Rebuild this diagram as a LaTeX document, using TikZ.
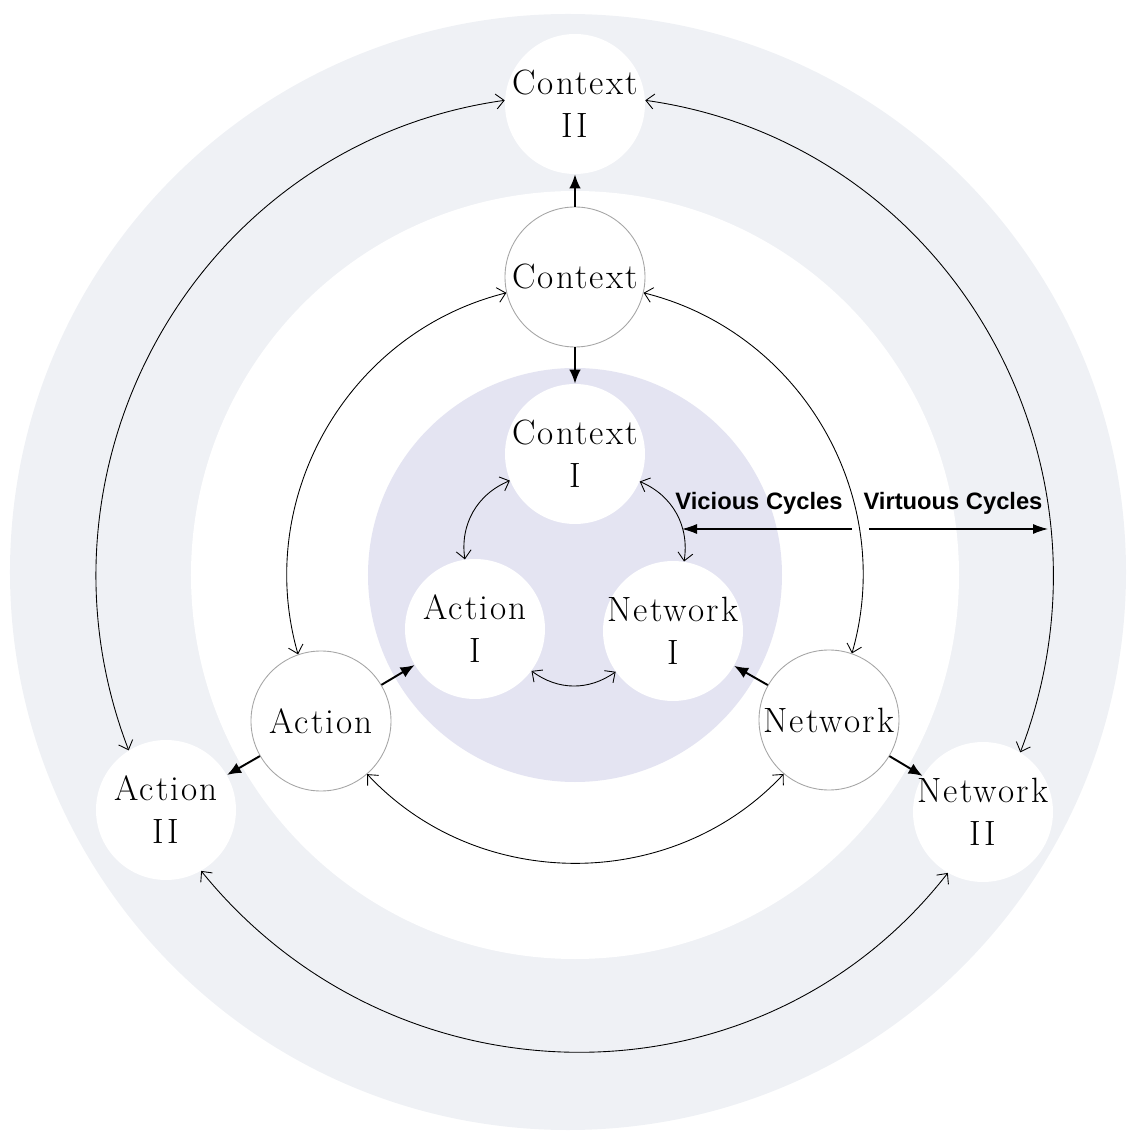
\documentclass[tikz,border=0pt]{standalone}
\usepackage{fontspec}
\usetikzlibrary{arrows.meta}
\newfontfamily\cyclefont{Liberation Sans}
\newfontfamily\ringfont[LetterSpace=6]{lmroman17-regular.otf}
\definecolor{haze}{RGB}{239,241,245}
\definecolor{lilac}{RGB}{228,228,242}

\begin{document}
\begin{tikzpicture}
	\tikzstyle{every node}=[font=\ringfont\fontsize{20}{24.5}\selectfont]
	\tikzstyle{plain}=[circle, fill=white, minimum size=2.8cm, inner sep=-6pt, align=center]
	\tikzstyle{ringed}=[plain, draw=gray!70, line width=0.5pt]
	\tikzstyle{loop}=[{Straight Barb[length=1.6mm,width=3mm]}-{Straight Barb[length=1.6mm,width=3mm]}, line width=0.5pt]
	\tikzstyle{push}=[-{Latex[length=2.8mm,width=2.3mm]}, line width=1.1pt]
	\tikzstyle{hint}=[-{Latex[length=3mm,width=2mm]}, line width=0.6pt]
	\tikzstyle{cycletext}=[font=\cyclefont\bfseries\fontsize{13.5}{16}\selectfont]
	\useasboundingbox (-11.5,-11.16) rectangle (11.12,11.5);
	\fill [haze] (-0.14,0.06) circle (11.16cm);
	\fill [white] (0,0) circle (7.68cm);
	\fill [lilac] (0,0) circle (4.14cm);
	% outer ring
	\node [plain] (ctxII) at (0,9.42) {Context\\II};
	\node [plain] (actII) at (-8.18,-4.7) {Action\\II};
	\node [plain] (netII) at (8.16,-4.74) {Network\\II};
	% middle ring
	\node [ringed] (ctx) at (0,5.96) {Context};
	\node [ringed] (act) at (-5.08,-2.92) {Action};
	\node [ringed] (net) at (5.08,-2.9) {Network};
	% inner ring
	\node [plain] (ctxI) at (0,2.42) {Context\\I};
	\node [plain] (actI) at (-2.0,-1.08) {Action\\I};
	\node [plain] (netI) at (1.96,-1.12) {Network\\I};
	\draw [loop] (ctxII.177) to [out=188, in=111, looseness=1.05] (actII.122);
	\draw [loop] (ctxII.3) to [out=-8, in=69, looseness=1.05] (netII.58);
	\draw [loop] (actII.-60) to [out=-51, in=232, looseness=1.05] (netII.240);
	\draw [loop] (ctx.193) to [out=194, in=106] (act.109);
	\draw [loop] (ctx.-13) to [out=-14, in=74] (net.71);
	\draw [loop] (act.-49) to [out=-47, in=227] (net.230);
	\draw [loop] (ctxI) to [bend right=38] (actI);
	\draw [loop] (ctxI) to [bend left=38] (netI);
	\draw [loop] (actI) to [bend right=36] (netI);
	\draw [push] (ctx) -- (ctxII);
	\draw [push] (ctx) -- (ctxI);
	\draw [push] (act) -- (actI);
	\draw [push] (act) -- (actII);
	\draw [push] (net) -- (netI);
	\draw [push] (net) -- (netII);
	% cycle labels
	\node [cycletext] (vicious) at (3.68,1.44) {Vicious Cycles};
	\node [cycletext] (virtuous) at (7.56,1.44) {Virtuous Cycles};
	\coordinate (vicA) at (5.54,0.92);
	\coordinate (vicB) at (2.14,0.92);
	\coordinate (virA) at (5.88,0.92);
	\coordinate (virB) at (9.46,0.92);
	\draw [hint] (vicA) -- (vicB);
	\draw [hint] (virA) -- (virB);
\end{tikzpicture}
\end{document}
